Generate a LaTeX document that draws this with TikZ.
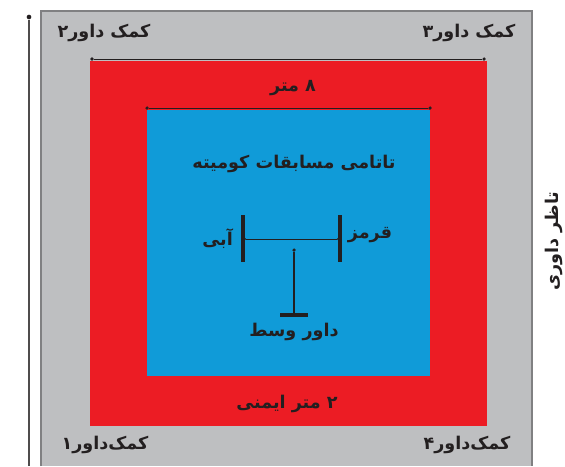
\documentclass[tikz,border=0pt]{standalone}
\usepackage{fontspec}
\usepackage{tikz}
\usetikzlibrary{positioning}
\TeXXeTstate=1
\newfontfamily\farsi[Script=Arabic]{DejaVu Sans}
\newcommand\fatxt[1]{\beginR #1\endR}
\definecolor{matgray}{HTML}{BEBFC1}
\definecolor{matedge}{HTML}{808082}
\definecolor{safered}{HTML}{EC1C24}
\definecolor{tatami}{HTML}{109BD8}
\definecolor{ink}{HTML}{231F20}
\tikzset{lbl/.style={font=\farsi\bfseries\fontsize{15}{17}\selectfont,text=ink,inner sep=1pt},dim/.style={draw=ink,line width=0.6pt},flag/.style={draw=ink,line width=3.2pt},tip/.style={circle,fill=ink,inner sep=0pt,minimum size=3pt}}

\begin{document}
\begin{tikzpicture}[x=0.03cm,y=-0.03cm]
\useasboundingbox (0,0) rectangle (565,466);
\fill[matgray] (41,11) rectangle (532,466);
\draw[matedge,line width=1.6pt] (41,466) -- (41,11) -- (532,11) -- (532,466);
\fill[safered] (90,61) rectangle (487,426);
\fill[tatami] (147,110) rectangle (430,376);
% referee line at the left
\node[tip,minimum size=4pt] (st) at (29,17) {};
\coordinate (sb) at (29,466);
\draw[ink!80,line width=2.4pt] (st) -- (sb);
% size lines
\node[tip] (r1) at (92,59) {};\node[tip] (r2) at (484,59) {};
\draw[dim] (r1) -- (r2);
\node[tip] (b1) at (147,108) {};\node[tip] (b2) at (430,108) {};
\draw[dim] (b1) -- (b2);
\node[lbl] (eight) at (293,88) {\fatxt{۸ متر}};
\node[lbl] (two) at (287,404) {\fatxt{۲ متر ایمنی}};
\node[lbl] (title) at (294,164) {\fatxt{تاتامی مسابقات کومیته}};
% corner judges
\foreach \n/\x/\y/\t in {1/105/445/کمک‌داور۱,2/104/33/کمک داور۲,3/469/33/کمک داور۳,4/467/445/کمک‌داور۴}
 {\node[lbl] (c\n) at (\x,\y) {\fatxt{\t}};}
\node[lbl,rotate=90] (judge) at (554,241) {\fatxt{تاظر داوری}};
% flags and centre referee
\coordinate (lt) at (243,215);\coordinate (lb) at (243,262);
\coordinate (rt) at (340,215);\coordinate (rb) at (340,262);
\coordinate (bl) at (280,315);\coordinate (br) at (308,315);
\draw[flag] (lt) -- (lb);\draw[flag] (rt) -- (rb);\draw[flag] (bl) -- (br);
\node[tip,minimum size=2pt] (hl) at (245,239) {};\node[tip,minimum size=2pt] (hr) at (338,239) {};
\draw[dim] (hl) -- (hr);
\node[tip] (vt) at (294,250) {};\coordinate (vb) at (294,315);
\draw[dim,line width=0.9pt] (vt) -- (vb);
\node[lbl,left=8pt of hl] (blue) {\fatxt{آبی}};
\node[lbl,right=6pt of hr,yshift=3pt] (red) {\fatxt{قرمز}};
\node[lbl,below=6pt of vb] (ref) {\fatxt{داور وسط}};
\end{tikzpicture}
\end{document}
